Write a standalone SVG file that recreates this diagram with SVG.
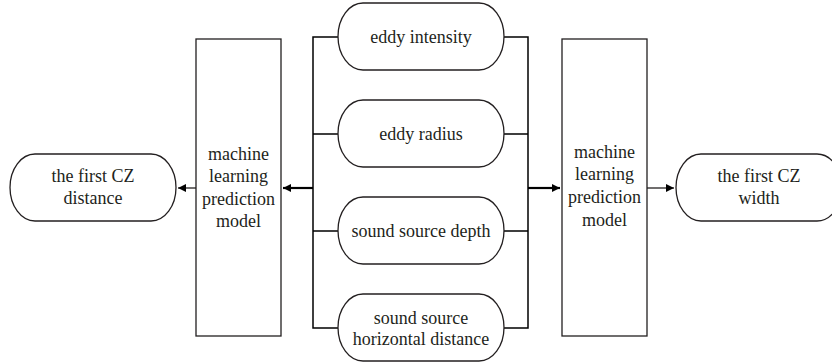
<svg xmlns="http://www.w3.org/2000/svg" width="832" height="362" viewBox="0 0 832 362">
<style>
.pill{fill:#fff;stroke:#231f20;stroke-width:1.3}
.box{fill:#fff;stroke:#231f20;stroke-width:1.3}
text{font-family:'Liberation Serif','DejaVu Serif','Times New Roman',Times,serif;font-size:18px;fill:#231f20;text-anchor:middle}
.ln{fill:none;stroke:#000;stroke-width:1.5}
.thick{fill:none;stroke:#000;stroke-width:2.2}
.thin{fill:none;stroke:#231f20;stroke-width:1.3}
</style>
<defs>
<marker id="ah" markerWidth="10" markerHeight="10" refX="8" refY="4" orient="auto" markerUnits="userSpaceOnUse">
<path d="M0,0 L8,4 L0,8 Z" fill="#000"/>
</marker>
</defs>
<g id="connectors">
<path class="ln" d="M338,37 H313 V328 H338 M313,134 H338 M313,231 H338"/>
<path class="ln" d="M504,37 H528 V328 H504 M528,134 H504 M528,231 H504"/>
<line class="thick" x1="313" y1="188" x2="283" y2="188" marker-end="url(#ah)"/>
<line class="thin" x1="196" y1="188" x2="178" y2="188" marker-end="url(#ah)"/>
<line class="thick" x1="528" y1="188" x2="560" y2="188" marker-end="url(#ah)"/>
<line class="thin" x1="647" y1="188" x2="674" y2="188" marker-end="url(#ah)"/>
</g>
<g font-family="Liberation Serif, serif">
<g id="eddy-intensity">
<rect class="pill" x="338" y="3" width="166" height="67" rx="25" ry="33.5"/>
<text x="421" y="42.5">eddy intensity</text>
</g>
<g id="eddy-radius">
<rect class="pill" x="338" y="100" width="166" height="67" rx="25" ry="33.5"/>
<text x="421" y="139.5">eddy radius</text>
</g>
<g id="sound-source-depth">
<rect class="pill" x="338" y="197" width="166" height="67" rx="25" ry="33.5"/>
<text x="421" y="236.5">sound source depth</text>
</g>
<g id="sound-source-horizontal-distance">
<rect class="pill" x="338" y="294" width="166" height="67" rx="25" ry="33.5"/>
<text x="421" y="323.5">sound source</text>
<text x="421" y="345">horizontal distance</text>
</g>
<g id="model-left">
<rect class="box" x="196" y="39" width="85" height="297"/>
<text x="238.5" y="159.5">machine</text>
<text x="238.5" y="182">learning</text>
<text x="238.5" y="204.5">prediction</text>
<text x="238.5" y="227">model</text>
</g>
<g id="model-right">
<rect class="box" x="562" y="39" width="85" height="297"/>
<text x="604.5" y="157.5">machine</text>
<text x="604.5" y="180">learning</text>
<text x="604.5" y="203">prediction</text>
<text x="604.5" y="226">model</text>
</g>
<g id="first-cz-distance">
<rect class="pill" x="10" y="154" width="166" height="67" rx="25" ry="33.5"/>
<text x="93" y="182">the first CZ</text>
<text x="93" y="203.5">distance</text>
</g>
<g id="first-cz-width">
<rect class="pill" x="676" y="154" width="166" height="67" rx="25" ry="33.5"/>
<text x="759" y="182">the first CZ</text>
<text x="759" y="203.5">width</text>
</g>
</g>
</svg>
